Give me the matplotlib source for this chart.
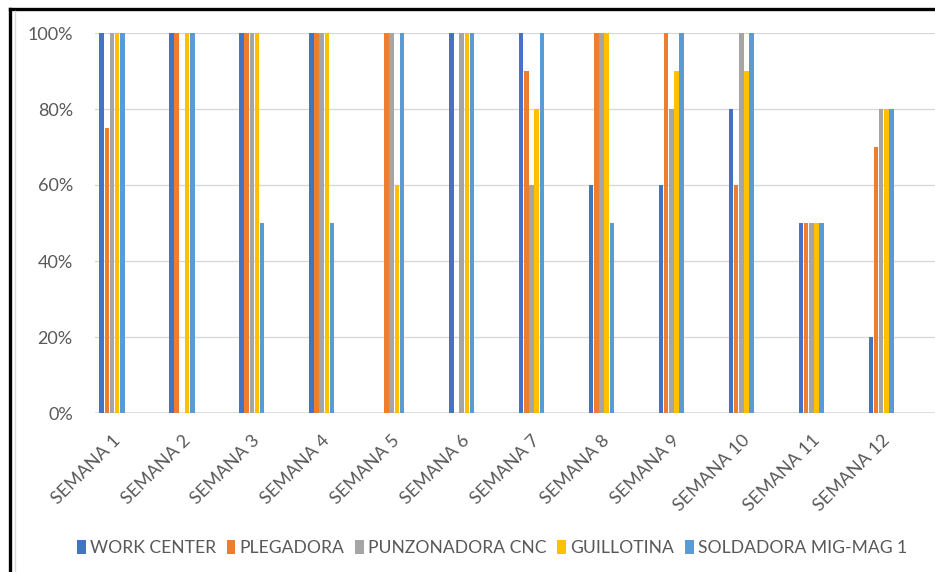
import numpy as np
import matplotlib.pyplot as plt
from matplotlib.lines import Line2D
from matplotlib.ticker import PercentFormatter

weeks = ['SEMANA %d' % i for i in range(1, 13)]

work_center = [1.00, 1.00, 1.00, 1.00, 0.00, 1.00, 1.00, 0.60, 0.60, 0.80, 0.50, 0.20]
plegadora = [0.75, 1.00, 1.00, 1.00, 1.00, 0.00, 0.90, 1.00, 1.00, 0.60, 0.50, 0.70]
punzonadora = [1.00, 0.00, 1.00, 1.00, 1.00, 1.00, 0.60, 1.00, 0.80, 1.00, 0.50, 0.80]
guillotina = [1.00, 1.00, 1.00, 1.00, 0.60, 1.00, 0.80, 1.00, 0.90, 0.90, 0.50, 0.80]
soldadora = [1.00, 1.00, 0.50, 0.50, 1.00, 1.00, 1.00, 0.50, 1.00, 1.00, 0.50, 0.80]

series = [
    ('WORK CENTER', work_center, '#4472C4'),
    ('PLEGADORA', plegadora, '#ED7D31'),
    ('PUNZONADORA CNC', punzonadora, '#A5A5A5'),
    ('GUILLOTINA', guillotina, '#FFC000'),
    ('SOLDADORA MIG-MAG 1', soldadora, '#5B9BD5'),
]

plt.rcParams['font.family'] = ['Lato', 'DejaVu Sans']
text_color = '#595959'

fig = plt.figure(figsize=(9.35, 5.72), dpi=100)
ax = fig.add_axes([95 / 935, 1 - 413 / 572, 840 / 935, 380 / 572])

x = np.arange(len(weeks))
width = 0.074
for i, (name, vals, color) in enumerate(series):
    offset = (i - 2) * width
    ax.bar(x + offset, vals, width * 0.88, color=color, label=name, zorder=3)

ax.set_ylim(0, 1)
ax.set_xlim(-0.243, 11.77)
ax.yaxis.set_major_formatter(PercentFormatter(1.0, decimals=0))
ax.set_yticks(np.arange(0, 1.01, 0.2))
ax.grid(axis='y', color='#D9D9D9', linewidth=1.0, zorder=0)
ax.axhline(0, color='#D9D9D9', linewidth=1.2, zorder=2)
for s in ax.spines.values():
    s.set_visible(False)
ax.tick_params(axis='both', length=0, colors=text_color, labelsize=13)
ax.tick_params(axis='y', pad=16)
ax.set_xticks(x)
ax.set_xticklabels(weeks, rotation=45, ha='right', rotation_mode='anchor',
                   fontsize=13)
ax.tick_params(axis='x', pad=14)

ax.legend(loc='center', bbox_to_anchor=(492 / 935, 1 - 548 / 572),
          bbox_transform=fig.transFigure, ncol=5, frameon=False,
          fontsize=12.6, labelcolor=text_color, handlelength=0.5,
          handleheight=0.85, handletextpad=0.25, columnspacing=0.6)

# frame lines around the chart
fig.add_artist(Line2D([9.5 / 935, 1], [1 - 8.5 / 572] * 2, color='black',
                      linewidth=2.4, transform=fig.transFigure))
fig.add_artist(Line2D([9.5 / 935] * 2, [0, 1 - 8.5 / 572], color='black',
                      linewidth=2.4, transform=fig.transFigure))
fig.add_artist(Line2D([15 / 935] * 2, [0, 1 - 11 / 572], color='#D9D9D9',
                      linewidth=1, transform=fig.transFigure))

fig.savefig('out.png', dpi=100)
